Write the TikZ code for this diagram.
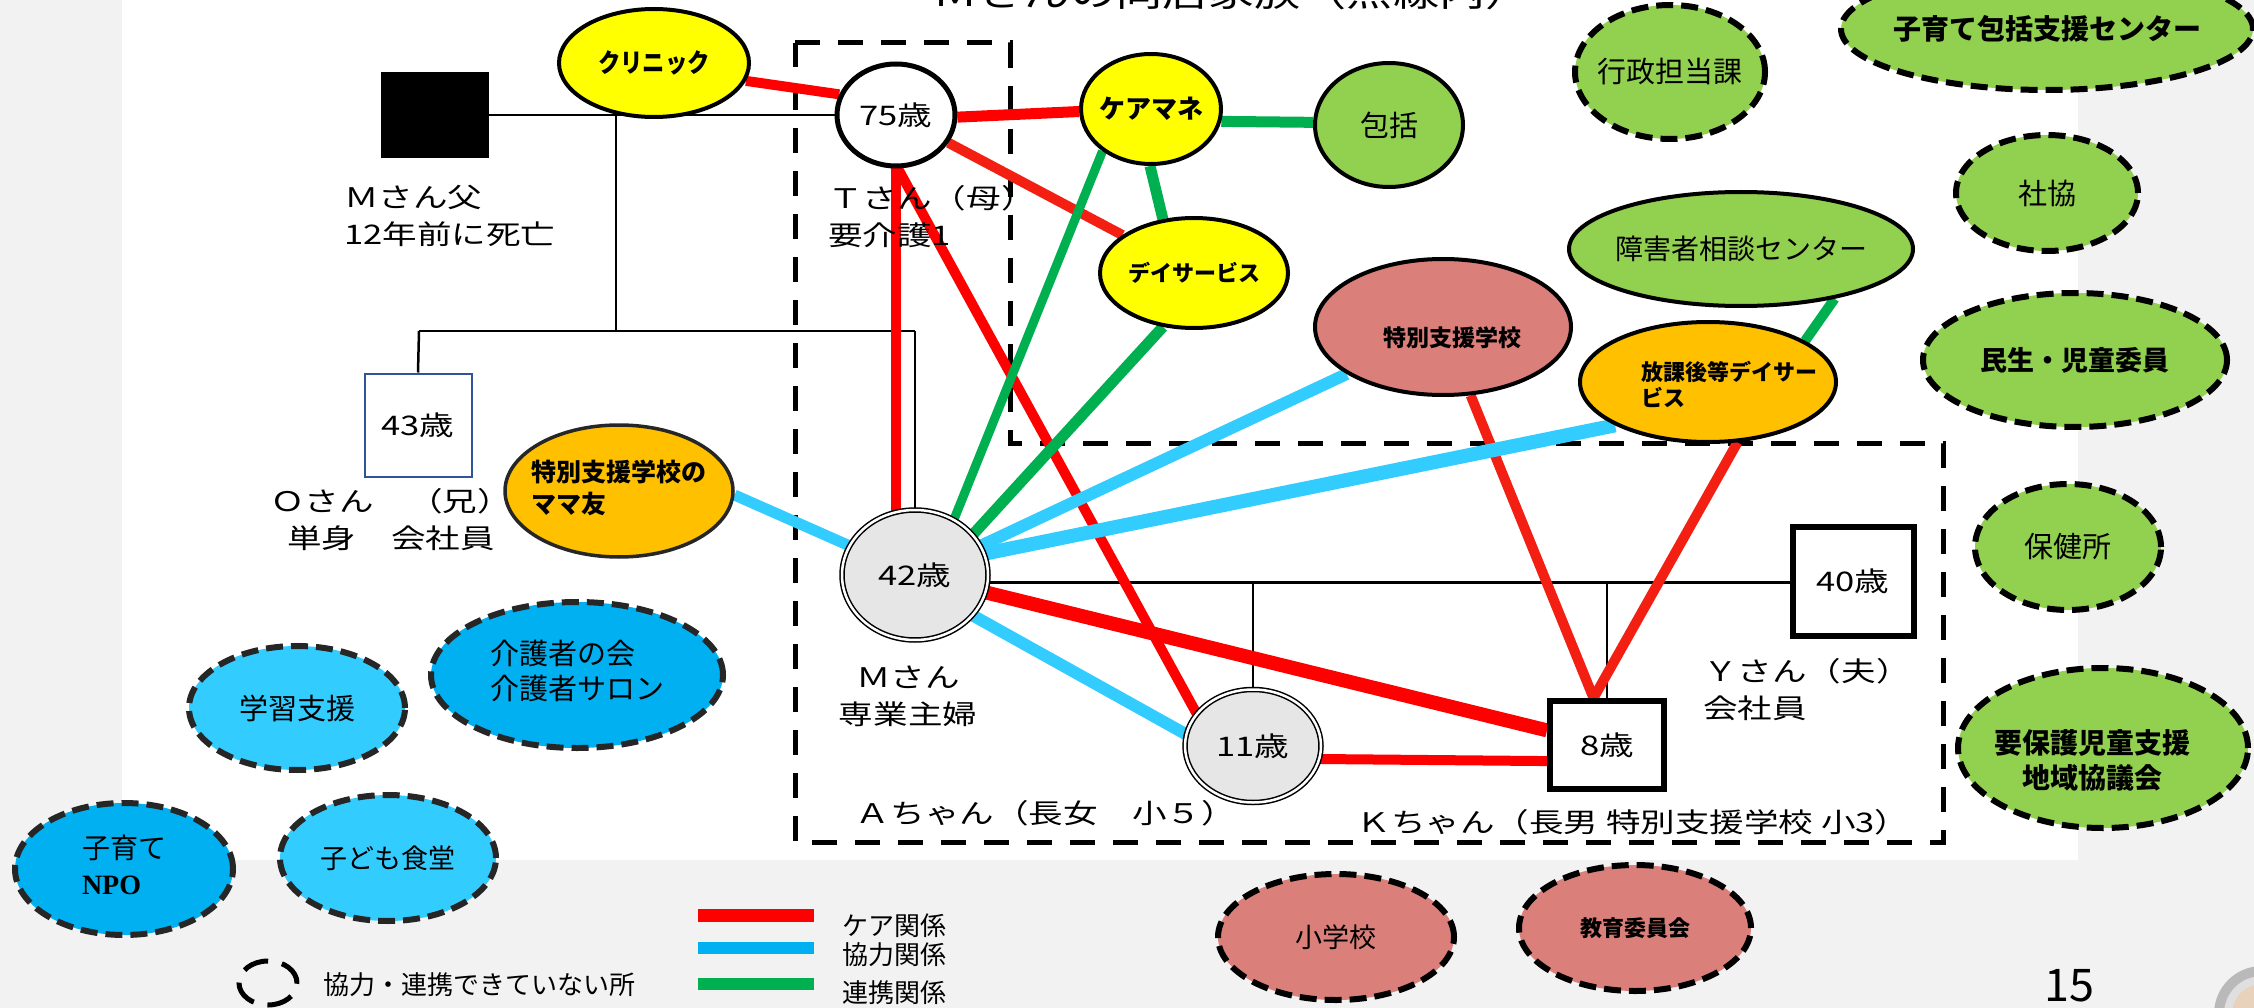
\documentclass[tikz,border=0pt]{standalone}
\usepackage{fontspec}
\usetikzlibrary{shapes.geometric,calc}
\setmainfont{Noto Sans CJK JP}
\newfontfamily\jp{Noto Sans CJK JP}
\newfontfamily\jpw{Noto Sans CJK JP}[FakeStretch=1.28]
\newfontfamily\jpc{Noto Sans CJK JP}[FakeStretch=0.86]
\newfontfamily\serifb{Liberation Serif}
\newcommand\fsz[2]{\fontsize{#1pt}{#2pt}\selectfont}
\newcommand\zw[1]{\makebox[0pt]{#1}}
\newcommand\zwl[1]{\makebox[0pt]{\begin{tabular}{@{}l@{}}#1\end{tabular}}}
\newcommand\zwc[1]{\makebox[0pt]{\begin{tabular}{@{}c@{}}#1\end{tabular}}}
\definecolor{cyel}{HTML}{FFFF00}
\definecolor{cgrn}{HTML}{92D050}
\definecolor{cpnk}{HTML}{DA7F79}
\definecolor{corg}{HTML}{FFC000}
\definecolor{clbl}{HTML}{33CCFF}
\definecolor{cdbl}{HTML}{00B0F0}
\definecolor{cgry}{HTML}{E6E6E6}
\definecolor{cbg}{HTML}{F2F2F2}
\definecolor{cred}{HTML}{FF0000}
\definecolor{cred2}{HTML}{F21F12}
\definecolor{cblu}{HTML}{33CCFF}
\definecolor{cgln}{HTML}{00B050}
\definecolor{cbox}{HTML}{2F5597}
\definecolor{cdk}{HTML}{262626}
\pgfdeclarelayer{back}
\pgfdeclarelayer{bg}
\pgfsetlayers{back,bg,main}
\begin{document}
\begin{tikzpicture}[x=1pt,y=-1pt,
  ell/.style={ellipse, inner sep=0pt, line width=4pt, draw=black},
  dell/.style={ellipse, inner sep=0pt, line width=6pt, draw=black, dash pattern=on 17pt off 8pt},
  dbl/.style={ellipse, inner sep=0pt, draw=black, line width=1.5pt, double=white, double distance=2.5pt, fill=cgry, font=\jpw\fsz{27}{32}},
  fam/.style={font=\jpw\fsz{27}{37}, inner sep=0pt},
  carel/.style={line width=10pt, draw=cred},
  coopl/.style={line width=12pt, draw=cblu},
  linkl/.style={line width=11pt, draw=cgln},
  geno/.style={line width=2.5pt, draw=black},
  boxn/.style={rectangle, inner sep=0pt, fill=white, font=\jpw\fsz{27}{32}}
]
\useasboundingbox (0,0) rectangle (2254,1008);
\begin{pgfonlayer}{back}
\fill[cbg] (0,0) rectangle (2254,1008);
\fill[white] (122,0) rectangle (2078,860);
\fill[gray!55] (2262,1014) circle (48pt);
\fill[gray!25] (2262,1014) circle (38pt);
\fill[brown!35] (2262,1014) circle (30pt);
\end{pgfonlayer}

% title (cut by the top edge, as in the reference)
\node[font=\jpw\fsz{36}{40}, anchor=base west, inner sep=0pt] (title) at (932,7) {Ｍさんの同居家族（点線内）};

% family members
\node[fill=black, minimum width=108, minimum height=86, inner sep=0pt] (father) at (435,115) {};
\node[ellipse, draw=black, line width=5pt, fill=white, minimum width=118, minimum height=102, inner sep=0pt, font=\jpw\fsz{27}{32}] (n75) at (896,115) {\zw{75歳}};
\node[dbl, minimum width=146, minimum height=130] (n42) at (915,575) {\zw{42歳}};
\node[dbl, minimum width=136, minimum height=113] (n11) at (1253,746) {\zw{11歳}};
\node[boxn, draw=cbox, line width=2pt, minimum width=107, minimum height=103] (n43) at (418,425) {43歳};
\node[boxn, draw=black, line width=6pt, minimum width=121, minimum height=109] (n40) at (1853,581) {40歳};
\node[boxn, draw=black, line width=6pt, minimum width=114, minimum height=88] (n8) at (1607,745) {8歳};

% family labels
\node[fam, anchor=west, align=left] (lblF) at (344,216) {Ｍさん父\\12年前に死亡};
\node[fam, anchor=west, align=left] (lblT) at (828,217) {Ｔさん（母）\\要介護1};
\node[fam, align=center] (lblO) at (391,520) {Ｏさん　（兄）\\単身　会社員};
\node[fam, align=center] (lblM) at (908,696) {Ｍさん\\専業主婦};
\node[fam, anchor=west, align=left] (lblY) at (1703,690) {Ｙさん（夫）\\会社員};
\node[fam] (lblA) at (1046,813) {Ａちゃん（長女　小５）};
\node[fam] (lblK) at (1633,822) {Ｋちゃん（長男 特別支援学校 小3）};

% support resources
\node[ell, fill=cyel, minimum width=190, minimum height=108, font=\jpc\bfseries\fsz{26}{30}] (clinic) at (654,63) {\zw{クリニック}};
\node[ell, fill=cyel, minimum width=140, minimum height=110, font=\jp\bfseries\fsz{26}{30}] (cm) at (1151,109) {\zw{ケアマネ}};
\node[ell, fill=cgrn, minimum width=148, minimum height=124, font=\jp\fsz{29}{34}] (hok) at (1389,125) {\zw{包括}};
\node[ell, fill=cyel, minimum width=188, minimum height=110, font=\jp\bfseries\fsz{22}{26}] (day) at (1194,273) {\zw{デイサービス}};
\node[dell, fill=cgrn, minimum width=190, minimum height=134, font=\jp\fsz{29}{34}] (gyo) at (1670,72) {\zw{行政担当課}};
\node[dell, fill=cgrn, minimum width=412, minimum height=122, font=\jp\bfseries\fsz{28}{34}] (kos) at (2047,29) {\zw{子育て包括支援センター}};
\node[dell, fill=cgrn, minimum width=182, minimum height=116, font=\jp\fsz{29}{34}] (sha) at (2047,193) {\zw{社協}};
\node[ell, fill=cgrn, minimum width=344, minimum height=114, font=\jp\fsz{28}{34}] (sho) at (1741,249) {\zw{障害者相談センター}};
\node[ell, fill=cpnk, minimum width=256, minimum height=136] (tok) at (1443,327) {};
\node[font=\jp\bfseries\fsz{23}{28}, inner sep=0pt] (toktxt) at (1452,338) {特別支援学校};
\node[ell, fill=corg, minimum width=256, minimum height=120] (hou) at (1708,382) {};
\node[font=\jp\bfseries\fsz{22}{26}, align=left, inner sep=0pt] (houtxt) at (1729,384) {放課後等デイサー\\ビス};
\node[dell, fill=cgrn, minimum width=304, minimum height=134, font=\jp\bfseries\fsz{27}{32}] (min) at (2075,360) {\zw{民生・児童委員}};
\node[dell, fill=cgrn, minimum width=186, minimum height=126, font=\jp\fsz{29}{34}] (hoken) at (2068,547) {\zw{保健所}};
\node[dell, fill=cgrn, minimum width=290, minimum height=160] (yoho) at (2103,748) {};
\node[font=\jp\bfseries\fsz{28}{35}, align=center, inner sep=0pt] (yohotxt) at (2092,760) {要保護児童支援\\地域協議会};
\node[ell, draw=cdk, line width=3.5pt, fill=corg, minimum width=228, minimum height=132, font=\jp\bfseries\fsz{25}{32}] (mama) at (619,491) {\zwl{特別支援学校の\\ママ友}};
\node[dell, draw=cdk, fill=clbl, minimum width=216, minimum height=124, font=\jp\fsz{29}{34}] (gak) at (297,708) {\zw{学習支援}};
\node[dell, draw=cdk, fill=cdbl, minimum width=292, minimum height=146, font=\jp\fsz{29}{35}] (kaigo) at (577,675) {\zwl{介護者の会\\介護者サロン}};
\node[dell, draw=cdk, fill=cdbl, minimum width=218, minimum height=132, font=\jp\fsz{28}{36}] (npo) at (124,869) {\zwl{子育て\\{\serifb\bfseries NPO}}};
\node[dell, draw=cdk, fill=clbl, minimum width=216, minimum height=126, font=\jp\fsz{27}{32}] (shoku) at (388,858) {\zw{子ども食堂}};
\node[dell, fill=cpnk, minimum width=236, minimum height=126, font=\jp\fsz{27}{32}] (shog) at (1336,937) {\zw{小学校}};
\node[dell, fill=cpnk, minimum width=232, minimum height=126, font=\jp\bfseries\fsz{22}{26}] (kyo) at (1635,928) {\zw{教育委員会}};

% legend
\node[ellipse, draw=black, line width=5pt, dash pattern=on 26pt off 14pt, minimum width=58, minimum height=44, inner sep=0pt] (lgd) at (268,983) {};
\node[font=\jp\fsz{26}{30}, anchor=west, inner sep=0pt] (lgdt) at (323,985) {協力・連携できていない所};
\fill[cred] (698,909) rectangle (814,922);
\fill[cdbl] (698,942) rectangle (814,954);
\fill[cgln] (698,978) rectangle (814,990);
\node[font=\jp\fsz{26}{30}, anchor=west, inner sep=0pt] (lg1) at (842,926) {ケア関係};
\node[font=\jp\fsz{26}{30}, anchor=west, inner sep=0pt] (lg2) at (842,955) {協力関係};
\node[font=\jp\fsz{26}{30}, anchor=west, inner sep=0pt] (lg3) at (842,993) {連携関係};
\node[font=\jp\fsz{45}{50}, inner sep=0pt] (pg) at (2069,986) {15};

% genogram lines, household outline, relations
\coordinate (pm) at (616,115);
\coordinate (sibM) at (616,331);
\coordinate (sibL) at (419,331);
\coordinate (sibR) at (915,331);
\coordinate (mar) at (n42.-6);
\begin{pgfonlayer}{bg}
\draw[line width=5pt, dash pattern=on 25pt off 18pt] (795,43) -- (1010,43) -- (1010,443) -- (1943,443) -- (1943,842) -- (795,842) -- cycle;
\draw[geno] (father) -- (n75);
\draw[geno] (pm) -- (sibM);
\draw[geno] (sibL) -- (sibR);
\draw[geno] (sibL) -- (n43.north);
\draw[geno] (sibR) -- (n42.center);
\draw[geno] (mar) -- (mar -| n40.west);
\draw[geno] (n11.north |- mar) -- (n11.center);
\draw[geno] (n8.north |- mar) -- (n8.center);
% care
\draw[carel] (clinic.-11) -- (n75.160);
\draw[carel, line width=11pt] (n75.-2) -- (cm.182);
\draw[carel, draw=cred2] (n75) -- (day);
\draw[carel] (n75.south) -- (n75.south |- n42.center);
\draw[carel] (n75.-88) -- (n11.150);
\draw[carel, line width=14pt] (n42) -- (n8);
\draw[carel] (n11.-11) -- (n8.195);
\draw[carel, draw=cred2] (tok.-68) -- (n8.106);
\draw[carel, draw=cred2] (hou.-64) -- (n8.106);
% cooperation
\draw[coopl, line width=11pt] (mama.-2) -- (n42.156);
\draw[coopl] (n42.24) -- (tok.206);
\draw[coopl, line width=14pt] (n42.17) -- (hou.205);
\draw[coopl] (n42.-35) -- (n11.170);
% linkage
\draw[linkl] (cm.-10) -- (hok.178);
\draw[linkl] (cm.-91) -- (day.120);
\draw[linkl, line width=9pt] (cm.221) -- (n42.55);
\draw[linkl] (day.240) -- (n42.35);
\draw[linkl, line width=10pt] (sho.-28) -- (hou.23);
\end{pgfonlayer}
\end{tikzpicture}
\end{document}
